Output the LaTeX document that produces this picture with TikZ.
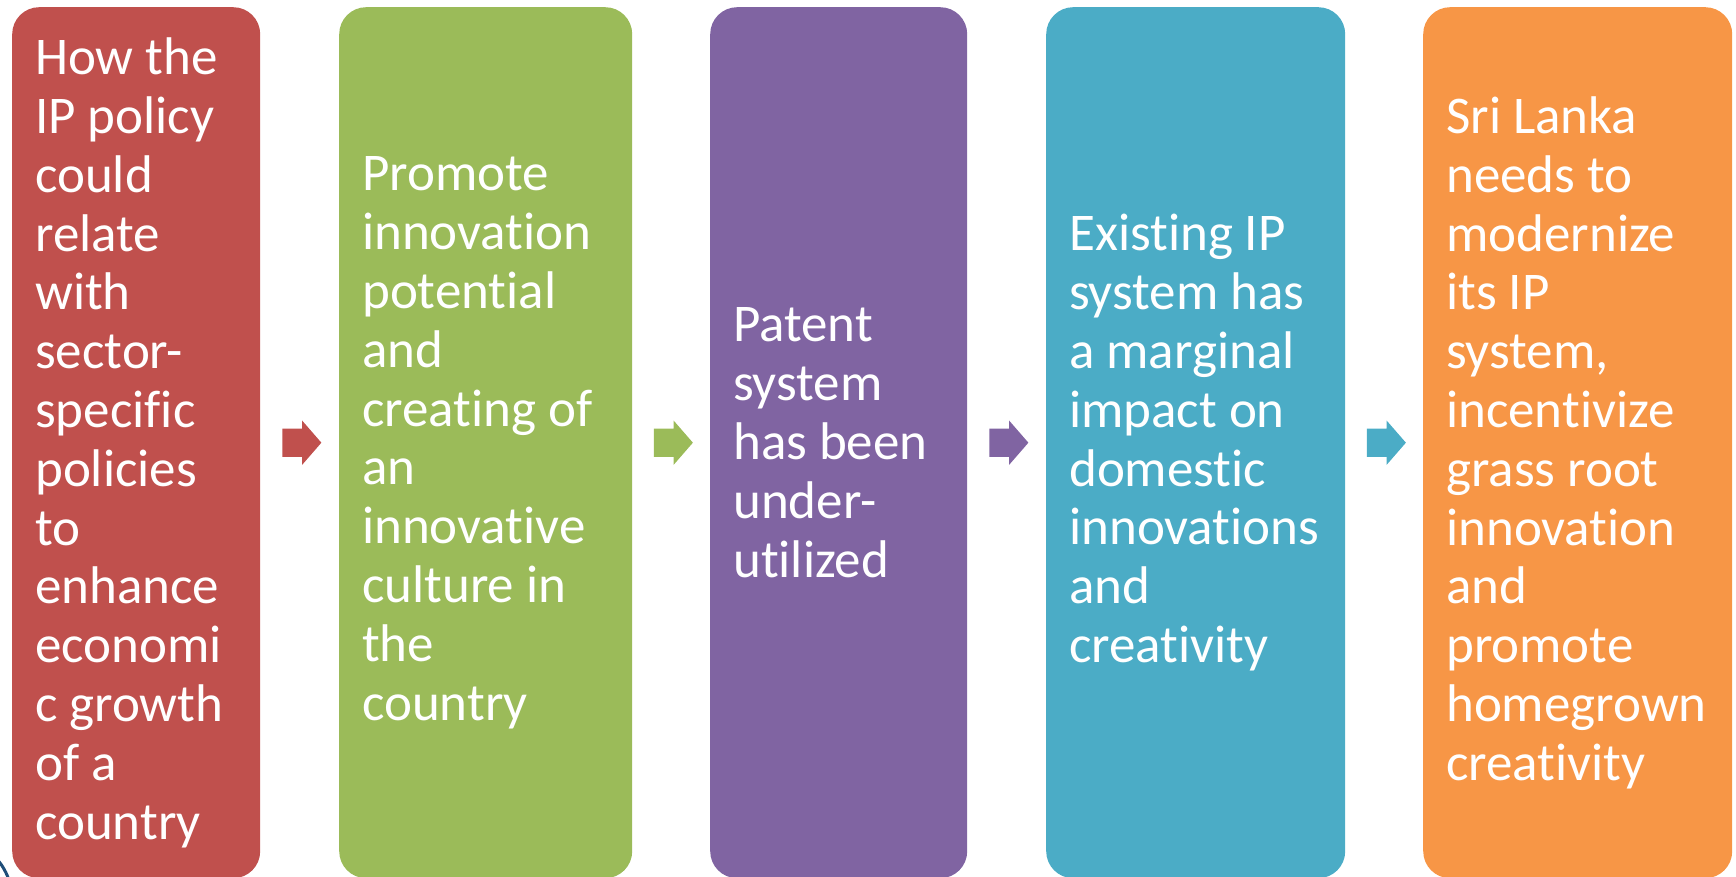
\documentclass[tikz,border=0pt]{standalone}
\usepackage{fontspec}
\setmainfont[Ligatures=NoCommon]{Carlito}
\usetikzlibrary{positioning,calc,shapes.arrows}
\definecolor{stepred}{HTML}{C0504D}
\definecolor{stepgreen}{HTML}{9BBB59}
\definecolor{steppurple}{HTML}{8064A2}
\definecolor{stepteal}{HTML}{4BACC6}
\definecolor{steporange}{HTML}{F79646}
\definecolor{slideblue}{HTML}{1F4E79}
\tikzset{
stepbox/.style 2 args={
  rectangle,
  rounded corners=27pt,
  fill=#1,
  draw=none,
  anchor=north west,
  minimum height=871pt,
  text width=#2-46pt,
  inner xsep=23pt,
  inner ysep=0pt,
  align=flush left,
  text=white,
  font=\fontsize{53}{58.8}\selectfont
  }
}
\tikzset{
  flowarrow/.style={
    single arrow,
    fill=#1,
    draw=none,
    inner xsep=0pt,
    inner ysep=14pt,
    minimum height=39pt,
    single arrow head extend=8pt,
    single arrow tip angle=98,
    xshift=-4pt
  }
}

\begin{document}
\begin{tikzpicture}[x=1pt,y=-1pt]
\useasboundingbox (0,0) rectangle (1736,877);
\clip (0,0) rectangle (1736,877);

\draw[slideblue,line width=3pt] (-6,856) .. controls (0,862) and (5,869) .. (9,880);

\node[stepbox={stepred}{248pt}] (box1) at (12,7)
{How the\\ IP policy\\ could\\ relate\\ with\\ sector-\\ specific\\ policies\\ to\\ enhance\\ economi\\ c growth\\ of a\\ country};
\node[stepbox={stepgreen}{293pt}] (box2) at (339,7)
{Promote\\ innovation\\ potential\\ and\\ creating of\\ an\\ innovative\\ culture in\\ the\\ country};
\node[stepbox={steppurple}{257pt}] (box3) at (710,7)
{Patent\\ system\\ has been\\ under-\\ utilized};
\node[stepbox={stepteal}{299pt}] (box4) at (1046,7)
{Existing IP\\ system has\\ a marginal\\ impact on\\ domestic\\ innovations\\ and\\ creativity};
\node[stepbox={steporange}{309pt}] (box5) at (1423,7)
{Sri Lanka\\ needs to\\ modernize\\ its IP\\ system,\\ incentivize\\ grass root\\ innovation\\ and\\ promote\\ homegrown\\ creativity};

\node[flowarrow=stepred] (arr1) at ($(box1.east)!0.5!(box2.west)$) {};
\node[flowarrow=stepgreen] (arr2) at ($(box2.east)!0.5!(box3.west)$) {};
\node[flowarrow=steppurple] (arr3) at ($(box3.east)!0.5!(box4.west)$) {};
\node[flowarrow=stepteal] (arr4) at ($(box4.east)!0.5!(box5.west)$) {};

\end{tikzpicture}
\end{document}
